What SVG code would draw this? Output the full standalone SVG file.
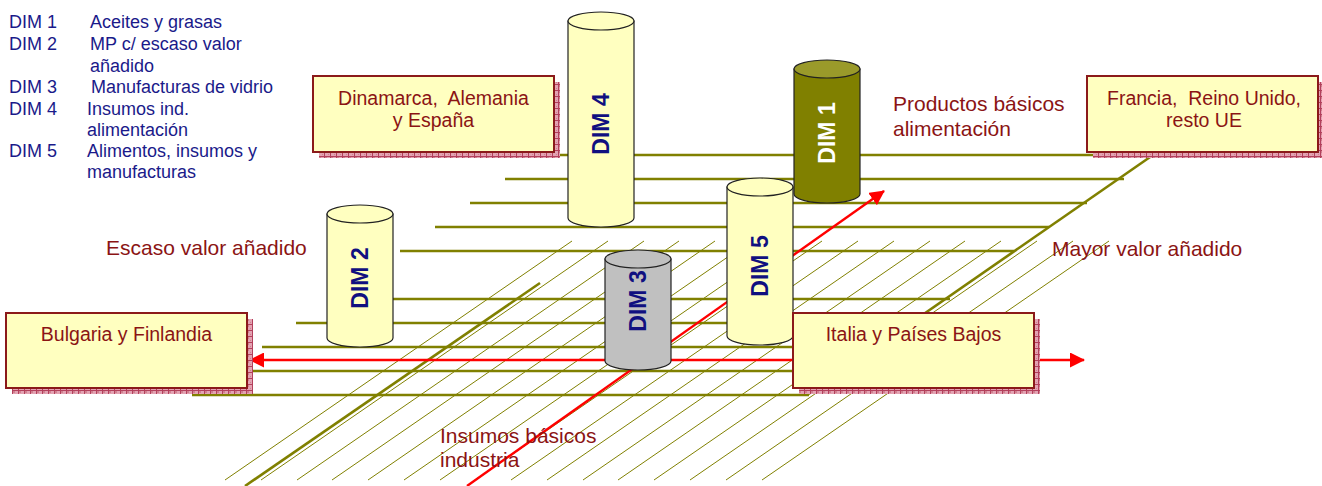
<svg xmlns="http://www.w3.org/2000/svg" width="1322" height="486" viewBox="0 0 1322 486">
  <defs>
    <pattern id="shade" width="6" height="6" patternUnits="userSpaceOnUse">
      <rect width="6" height="6" fill="#e3a3b3"/>
      <rect x="1" y="1" width="2" height="2" fill="#d0808f"/>
      <rect x="4" y="4" width="1" height="1" fill="#d0808f"/>
      <path d="M0 0.5H6M0.5 0V6" stroke="#b3405c" stroke-width="1"/>
    </pattern>
    <marker id="redHead" viewBox="0 0 15 15" refX="14" refY="7.5" markerWidth="15" markerHeight="15" markerUnits="userSpaceOnUse" orient="auto-start-reverse">
      <path d="M0 0L15 7.5L0 15Z" fill="#ff0000"/>
    </marker>
  </defs>
  <style>
    .grid { stroke: #808000; stroke-width: 2.6; fill: none; }
    .hatch { stroke: #808000; stroke-width: 1; fill: none; }
    .edge { stroke: #808000; stroke-width: 2.6; fill: none; }
    .arrow { stroke: #ff0000; stroke-width: 2.4; fill: none; }
    .box { fill: #ffffc0; stroke: #8b1a1a; stroke-width: 2; }
    .shadow { fill: url(#shade); }
    .cyl { stroke: #222; stroke-width: 1.2; }
    .pale { fill: #ffffc0; }
    .olive { fill: #808000; }
    .oliveTop { fill: #9a9a2a; }
    .grey { fill: #c0c0c0; }
    .legend { font-family: "Liberation Sans", Arial, sans-serif; font-size: 18px; fill: #1a1a8a; }
    .label { font-family: "Liberation Sans", Arial, sans-serif; font-size: 21px; fill: #8b1414; }
    .boxText { font-family: "Liberation Sans", Arial, sans-serif; font-size: 19.5px; fill: #8b1414; text-anchor: middle; white-space: pre; }
    .dim { font-family: "Liberation Sans", Arial, sans-serif; font-size: 23px; font-weight: bold; fill: #101080; text-anchor: middle; dominant-baseline: central; }
  </style>

  <rect width="1322" height="486" fill="#ffffff"/>

  <!-- legend -->
  <g id="legend" class="legend">
    <text x="9" y="28">DIM 1</text><text x="90" y="28">Aceites y grasas</text>
    <text x="9" y="50">DIM 2</text><text x="90" y="50">MP c/ escaso valor</text>
    <text x="90" y="72">añadido</text>
    <text x="9" y="93">DIM 3</text><text x="91" y="93">Manufacturas de vidrio</text>
    <text x="9" y="115">DIM 4</text><text x="87" y="115">Insumos ind.</text>
    <text x="87" y="136">alimentación</text>
    <text x="9" y="157">DIM 5</text><text x="87" y="157">Alimentos, insumos y</text>
    <text x="87" y="178">manufacturas</text>
  </g>

  <!-- perspective plane: horizontal rulings, diagonal hatching and edges -->
  <g id="connectors">
    <g id="plane-rulings">
      <path class="grid" d="M540 155H1153 M505 179H1124 M470 203H1087 M435 227H1049 M400 251H1014 M331 299H950 M296 323H913 M262 347H879 M227 371H844 M192 395H809"/>
    </g>
    <g id="plane-hatching">
      <path class="hatch" d="M572 241L225 480 M608 241L261 480 M644 241L297 480 M679 241L332 480 M715 241L368 480 M751 241L404 480 M787 241L440 480 M822 241L475 480 M858 241L511 480 M894 241L547 480 M930 241L583 480 M965 241L618 480 M1001 241L654 480 M1037 241L690 480 M1073 241L726 480 M1109 241L762 480"/>
    </g>
    <g id="plane-edges">
      <path class="edge" d="M1153 155L807 395"/>
      <path class="edge" d="M540 283L245 486"/>
    </g>
    <!-- red value axes -->
    <path id="axis-horizontal" class="arrow" d="M250 360H1084" marker-start="url(#redHead)" marker-end="url(#redHead)"/>
    <path id="axis-diagonal" class="arrow" d="M467 486L884 191" marker-end="url(#redHead)"/>
  </g>

  <!-- cylinders -->
  <g id="dim4">
    <path class="cyl pale" d="M568 21V218A33 9 0 0 0 634 218V21Z"/>
    <ellipse class="cyl pale" cx="601" cy="21" rx="33" ry="9"/>
    <text class="dim" transform="translate(601 124) rotate(-90)">DIM 4</text>
  </g>
  <g id="dim1">
    <path class="cyl olive" d="M794 69V194A33 9 0 0 0 860 194V69Z"/>
    <ellipse class="cyl oliveTop" cx="827" cy="69" rx="33" ry="9"/>
    <text class="dim" style="fill:#ffffff" transform="translate(827 133) rotate(-90)">DIM 1</text>
  </g>
  <g id="dim5">
    <path class="cyl pale" d="M727 187V336A33 9 0 0 0 793 336V187Z"/>
    <ellipse class="cyl pale" cx="760" cy="187" rx="33" ry="9"/>
    <text class="dim" transform="translate(760 266) rotate(-90)">DIM 5</text>
  </g>
  <g id="dim3">
    <path class="cyl grey" d="M605 259V361A33 9 0 0 0 671 361V259Z"/>
    <ellipse class="cyl grey" cx="638" cy="259" rx="33" ry="9"/>
    <text class="dim" transform="translate(638 301) rotate(-90)">DIM 3</text>
  </g>
  <g id="dim2">
    <path class="cyl pale" d="M327 214V338A33 9 0 0 0 393 338V214Z"/>
    <ellipse class="cyl pale" cx="360" cy="214" rx="33" ry="9"/>
    <text class="dim" transform="translate(360 278) rotate(-90)">DIM 2</text>
  </g>

  <!-- country boxes -->
  <g id="box-dinamarca">
    <rect class="shadow" x="319" y="82" width="241" height="76"/>
    <rect class="box" x="313" y="76" width="241" height="76"/>
    <text class="boxText" x="433.5" y="105">Dinamarca,  Alemania</text>
    <text class="boxText" x="433.5" y="127">y España</text>
  </g>
  <g id="box-francia">
    <rect class="shadow" x="1093" y="82" width="231" height="76"/>
    <rect class="box" x="1087" y="76" width="231" height="76"/>
    <text class="boxText" x="1204" y="105">Francia,  Reino Unido,</text>
    <text class="boxText" x="1204" y="127">resto UE</text>
  </g>
  <g id="box-bulgaria">
    <rect class="shadow" x="12" y="319" width="241" height="75"/>
    <rect class="box" x="6" y="313" width="241" height="75"/>
    <text class="boxText" x="126.5" y="341">Bulgaria y Finlandia</text>
  </g>
  <g id="box-italia">
    <rect class="shadow" x="799" y="319" width="241" height="75"/>
    <rect class="box" x="793" y="313" width="241" height="75"/>
    <text class="boxText" x="913.5" y="341">Italia y Países Bajos</text>
  </g>

  <!-- axis labels -->
  <g id="labels" class="label">
    <text x="893" y="111">Productos básicos</text>
    <text x="893" y="136">alimentación</text>
    <text x="106" y="255">Escaso valor añadido</text>
    <text x="1052" y="256">Mayor valor añadido</text>
    <text x="440" y="443">Insumos básicos</text>
    <text x="440" y="467">industria</text>
  </g>
</svg>
